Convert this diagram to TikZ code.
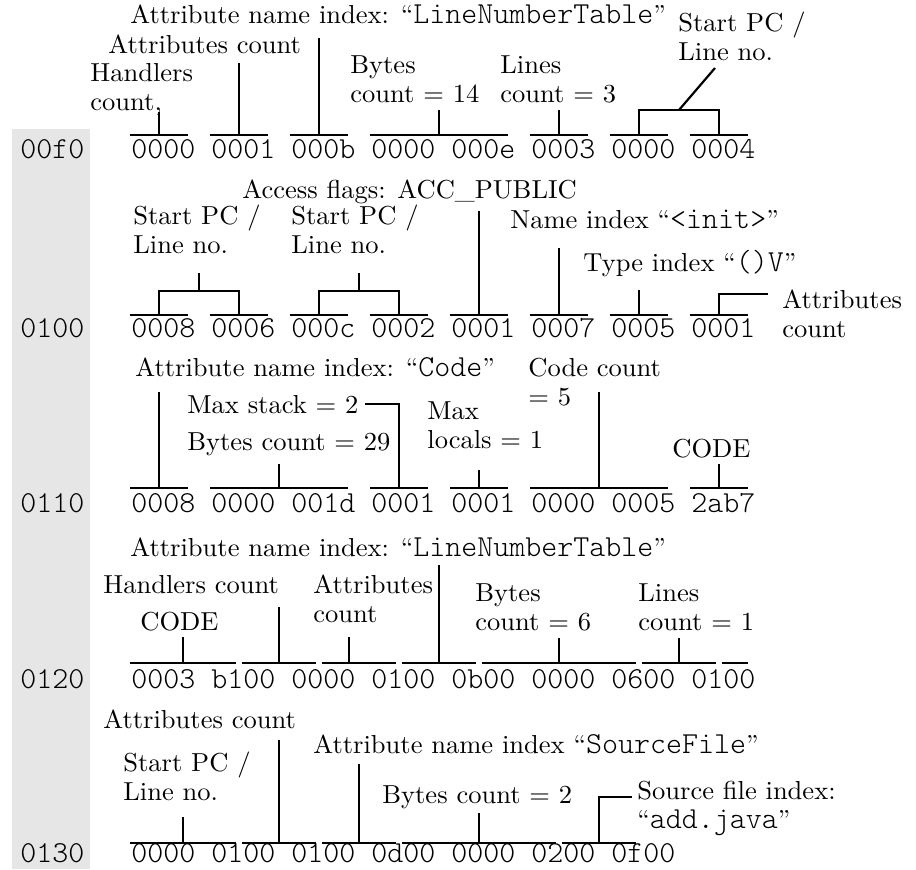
\documentclass[tikz,border=0pt]{standalone}
\usepackage{fontspec}
\usetikzlibrary{calc}
\newfontfamily\lblfont{lmroman10-regular}[Extension=.otf,FakeStretch=1.02]
\newfontfamily\hexfont{lmmonolt10-regular}[Extension=.otf]
\definecolor{Gutter}{HTML}{E6E6E6}
\newcommand{\hx}[1]{{\hexfont\fontsize{15.24}{14.5}\selectfont #1}}
\def\xo{131}
\def\px{16.0}
% overbar over the hex characters #3..#4 of a row, midpoint named #1
\newcommand{\hexbar}[4]{%
  \draw[barline] ({\xo+#3*\px-1},#2) -- ({\xo+(#4+1)*\px-7},#2);
  \coordinate (#1) at ({\xo+(#3+#4+1)*\px/2-4},#2);}

\begin{document}
\begin{tikzpicture}[x=0.5pt,y=-0.5pt,
  lbl/.style={anchor=base west,inner sep=0pt,align=left,font=\lblfont\fontsize{13}{14.5}\selectfont},
  hexrow/.style={anchor=base west,inner sep=0pt,font=\hexfont\fontsize{15.24}{18}\selectfont},
  barline/.style={line width=1.1pt}]
  \useasboundingbox (0,0) rectangle (916,869);
  \fill[Gutter] (12,129) rectangle (90,869);
  \foreach \addr/\yb [count=\i] in {00f0/158,0100/337,0110/512,0120/688,0130/862}
    \node[hexrow] (addr\i) at (20,\yb) {\addr};

  % row 00f0
  \node[hexrow] (hex1) at (\xo,158) {0000 0001 000b 0000 000e 0003 0000 0004};
  \foreach \nm/\a/\b in {b10/0/3,b11/5/8,b12/10/13,b13/15/23,b14/25/28,b15/30/33,b16/35/38}
    \hexbar{\nm}{135}{\a}{\b};
  \node[lbl] (hcount1) at (90,110) {Handlers\\count,};
  \node[lbl] (acount1) at (108,53) {Attributes count};
  \node[lbl] (aname1) at (130,23) {Attribute name index: “\hx{LineNumberTable}”};
  \node[lbl] (bcount1) at (350,102) {Bytes\\count = 14};
  \node[lbl] (lcount1) at (500,102) {Lines\\count = 3};
  \node[lbl] (pcline1) at (678,60) {Start PC /\\Line no.};
  \foreach \b/\t in {b10/112,b11/63,b12/38,b13/110,b14/110,b15/110,b16/110}{
    \coordinate (\b-t) at (\b |- 0,\t);}
  \foreach \b in {b10,b11,b12,b13,b14}
    \draw[barline] (\b) -- (\b-t);
  \draw[barline] (b15) -- (b15-t) -- (b16-t) -- (b16);
  \coordinate (j1) at ($(b15-t)!0.5!(b16-t)$);
  \coordinate (j1-e) at (715,68);
  \draw[barline] (j1) -- (j1-e);

  % row 0100
  \node[hexrow] (hex2) at (\xo,337) {0008 0006 000c 0002 0001 0007 0005 0001};
  \foreach \g in {0,...,7}
    \hexbar{b2\g}{315}{5*\g}{5*\g+3};
  \node[lbl] (pcline2a) at (133,253) {Start PC /\\Line no.};
  \node[lbl] (pcline2b) at (291,253) {Start PC /\\Line no.};
  \node[lbl] (flags2) at (242,198) {Access flags: ACC\_PUBLIC};
  \node[lbl] (nidx2) at (510,228) {Name index “\hx{<init>}”};
  \node[lbl] (tidx2) at (583,271) {Type index “\hx{()V}”};
  \node[lbl] (acount2) at (782,337) {Attributes\\count};
  \foreach \b/\t in {b20/291,b21/291,b22/291,b23/291,b24/211,b25/248,b26/290,b27/294}{
    \coordinate (\b-t) at (\b |- 0,\t);}
  \draw[barline] (b20) -- (b20-t) -- (b21-t) -- (b21);
  \draw[barline] (b22) -- (b22-t) -- (b23-t) -- (b23);
  \coordinate (j2a) at ($(b20-t)!0.5!(b21-t)$);
  \coordinate (j2b) at ($(b22-t)!0.5!(b23-t)$);
  \coordinate (j2a-e) at (j2a |- 0,273);
  \coordinate (j2b-e) at (j2b |- 0,273);
  \draw[barline] (j2a) -- (j2a-e);
  \draw[barline] (j2b) -- (j2b-e);
  \foreach \b in {b24,b25,b26}
    \draw[barline] (\b) -- (\b-t);
  \coordinate (a2-e) at (768,294);
  \draw[barline] (b27) -- (b27-t) -- (a2-e);

  % row 0110
  \node[hexrow] (hex3) at (\xo,512) {0008 0000 001d 0001 0001 0000 0005 2ab7};
  \foreach \nm/\a/\b in {b30/0/3,b31/5/13,b32/15/18,b33/20/23,b34/25/33,b35/35/38}
    \hexbar{\nm}{488}{\a}{\b};
  \node[lbl] (aname3) at (135,376) {Attribute name index: “\hx{Code}”};
  \node[lbl] (mstack3) at (187,413) {Max stack = 2};
  \node[lbl] (bcount3) at (187,450) {Bytes count = 29};
  \node[lbl] (mloc3) at (427,448) {Max\\locals = 1};
  \node[lbl] (ccount3) at (528,405) {Code count\\= 5};
  \node[lbl] (code3) at (672,457) {CODE};
  \foreach \b/\t in {b30/392,b31/464,b32/404,b33/470,b34/392,b35/464}{
    \coordinate (\b-t) at (\b |- 0,\t);}
  \foreach \b in {b30,b31,b33,b34,b35}
    \draw[barline] (\b) -- (\b-t);
  \coordinate (ms3-e) at (365,404);
  \draw[barline] (ms3-e) -- (b32-t) -- (b32);

  % row 0120
  \node[hexrow] (hex4) at (\xo,688) {0003 b100 0000 0100 0b00 0000 0600 0100};
  \foreach \nm/\a/\b in {b40/0/6,b41/7/11,b42/12/16,b43/17/21,b44/22/31,b45/32/36,b46/37/38}
    \hexbar{\nm}{663}{\a}{\b};
  \coordinate (b42) at (349,663);
  \node[lbl] (aname4) at (130,556) {Attribute name index: “\hx{LineNumberTable}”};
  \node[lbl] (hcount4) at (103,593) {Handlers count};
  \node[lbl] (code4) at (140,630) {CODE};
  \node[lbl] (acount4) at (313,622) {Attributes\\count};
  \node[lbl] (bcount4) at (475,630) {Bytes\\count = 6};
  \node[lbl] (lcount4) at (638,630) {Lines\\count = 1};
  \foreach \b/\t in {b40/637,b41/607,b42/637,b43/565,b44/638,b45/638}{
    \coordinate (\b-t) at (\b |- 0,\t);
    \draw[barline] (\b) -- (\b-t);}

  % row 0130
  \node[hexrow] (hex5) at (\xo,862) {0000 0100 0100 0d00 0000 0200 0f00};
  \foreach \nm/\a/\b in {b50/0/6,b51/7/11,b52/12/16,b53/17/26,b54/27/31}
    \hexbar{\nm}{843}{\a}{\b};
  \node[lbl] (acount5) at (103,728) {Attributes count};
  \node[lbl] (pcline5) at (123,800) {Start PC /\\Line no.};
  \node[lbl] (aname5) at (313,753) {Attribute name index “\hx{SourceFile}”};
  \node[lbl] (bcount5) at (382,803) {Bytes count = 2};
  \node[lbl] (sfile5) at (637,828) {Source file index:\\“\hx{add.java}”};
  \foreach \b/\t in {b50/817,b51/740,b52/764,b53/813,b54/797}{
    \coordinate (\b-t) at (\b |- 0,\t);}
  \foreach \b in {b50,b51,b52,b53}
    \draw[barline] (\b) -- (\b-t);
  \coordinate (sf5-e) at (632,797);
  \draw[barline] (b54) -- (b54-t) -- (sf5-e);
\end{tikzpicture}
\end{document}
